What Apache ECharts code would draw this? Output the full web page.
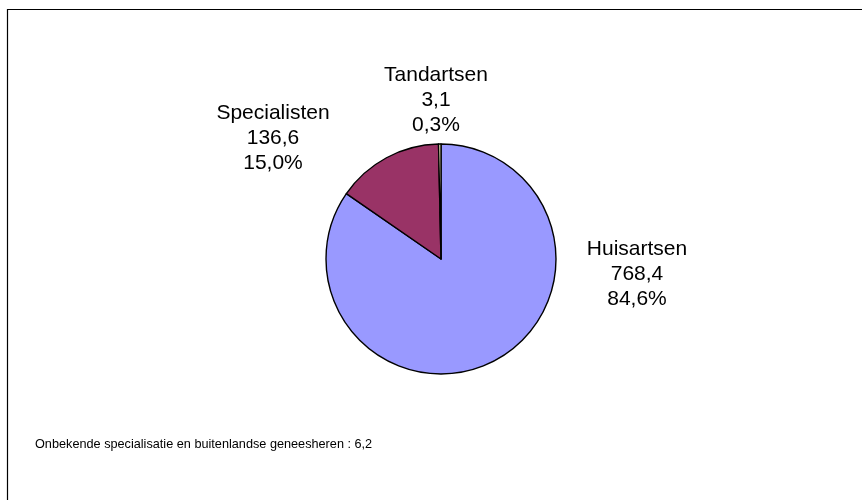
<!DOCTYPE html>
<html>
<head>
<meta charset="utf-8">
<script src="https://cdn.jsdelivr.net/npm/echarts@6/dist/echarts.min.js"></script>
<style>
  html, body { margin: 0; padding: 0; background: #fff; }
  #chart { width: 862px; height: 500px; }
</style>
</head>
<body>
<div id="chart"></div>
<script>
// categories and values (rounded values as printed on the chart)
const categories = ['Huisartsen', 'Specialisten', 'Tandartsen']
const values = [768.4, 136.6, 3.1]
const sliceColors = ['#9999FF', '#993366', '#FFFFCC']
const footnote = 'Onbekende specialisatie en buitenlandse geneesheren : 6,2'

// where each label block sits (centre of the three text lines)
const labelPos = [
  { x: 637, y: 274 },
  { x: 273, y: 138 },
  { x: 436, y: 100 }
]

const fmt = (v, d) => v.toFixed(d).replace('.', ',')

const chart = echarts.init(document.getElementById('chart'))

const option = {
  backgroundColor: '#fff',
  animation: false,
  textStyle: { fontFamily: 'Liberation Sans, Arial, sans-serif' },
  graphic: [
    {
      type: 'rect',
      shape: { x: 7.5, y: 9.5, width: 1000, height: 1000 },
      style: { fill: 'none', stroke: '#000', lineWidth: 1.2 },
      silent: true
    },
    {
      type: 'text',
      left: 35,
      top: 438,
      style: {
        text: footnote,
        fill: '#000',
        font: '12.7px "Liberation Sans", Arial, sans-serif'
      }
    }
  ],
  series: [
    {
      type: 'pie',
      center: [441, 259],
      radius: 115,
      startAngle: 90,
      clockwise: true,
      avoidLabelOverlap: false,
      itemStyle: { borderColor: '#000', borderWidth: 1.4 },
      label: {
        show: true,
        position: 'outside',
        color: '#000',
        fontSize: 21,
        lineHeight: 25,
        align: 'center',
        fontFamily: 'Liberation Sans, Arial, sans-serif',
        formatter: p => p.name + '\n' + fmt(p.value, 1) + '\n' + fmt(p.percent, 1) + '%'
      },
      labelLine: { show: false },
      labelLayout: params => ({
        x: labelPos[params.dataIndex].x,
        y: labelPos[params.dataIndex].y,
        align: 'center',
        verticalAlign: 'middle'
      }),
      emphasis: { disabled: true },
      data: categories.map((name, i) => ({
        name: name,
        value: values[i],
        itemStyle: { color: sliceColors[i] }
      }))
    }
  ]
}

chart.setOption(option)
</script>
</body>
</html>
